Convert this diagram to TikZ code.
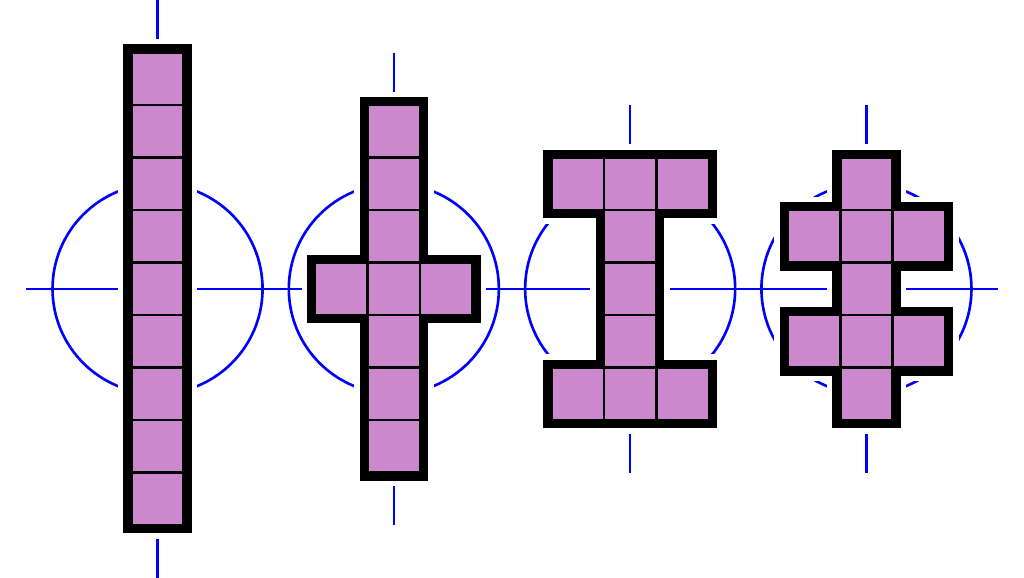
\documentclass[tikz,border=0pt]{standalone}
\definecolor{cellpink}{RGB}{204,136,204}
\tikzset{
  symaxis/.style={draw={rgb,255:red,0;green,0;blue,255}, line width=0.05cm},
  halo/.style={draw=white, line width=0.514cm, line join=miter},
  outline/.style={draw=black, line width=0.305cm, line join=miter},
  cellbox/.style={fill=cellpink, draw=black, line width=0.053cm},
}
\newcommand{\symaxes}[1]{%
  \draw[symaxis] (0,0) circle (2);
  \draw[symaxis] (0,-#1) -- (0,#1);
  \draw[symaxis] (-2.5,0) -- (2.5,0);
}
\begin{document}
\begin{tikzpicture}[x=1cm,y=1cm]
\useasboundingbox (0,0) rectangle (19.5,11);
\fill[white] (0,0) rectangle (19.5,11);

% shape 1: straight nonomino
\begin{scope}[shift={(3,5.5)}]
  \symaxes{5.5}
  \foreach \s in {halo,outline}
    \draw[\s] (-0.5,-4.5) -- (0.5,-4.5) -- (0.5,4.5) -- (-0.5,4.5) -- cycle;
  \foreach \cy in {-4,...,4}
    \draw[cellbox] (-0.5,\cy-0.5) rectangle ++(1,1);
\end{scope}

% shape 2: cross
\begin{scope}[shift={(7.5,5.5)}]
  \symaxes{4.5}
  \foreach \s in {halo,outline}
    \draw[\s] (-0.5,-3.5) -- (0.5,-3.5) -- (0.5,-0.5) -- (1.5,-0.5) -- (1.5,0.5)
      -- (0.5,0.5) -- (0.5,3.5) -- (-0.5,3.5) -- (-0.5,0.5) -- (-1.5,0.5)
      -- (-1.5,-0.5) -- (-0.5,-0.5) -- cycle;
  \foreach \cx/\cy in {0/-3,0/-2,0/-1,0/0,0/1,0/2,0/3,-1/0,1/0}
    \draw[cellbox] (\cx-0.5,\cy-0.5) rectangle ++(1,1);
\end{scope}

% shape 3: I-beam
\begin{scope}[shift={(12,5.5)}]
  \symaxes{3.5}
  \foreach \s in {halo,outline}
    \draw[\s] (-1.5,-2.5) -- (1.5,-2.5) -- (1.5,-1.5) -- (0.5,-1.5) -- (0.5,1.5)
      -- (1.5,1.5) -- (1.5,2.5) -- (-1.5,2.5) -- (-1.5,1.5) -- (-0.5,1.5)
      -- (-0.5,-1.5) -- (-1.5,-1.5) -- cycle;
  \foreach \cx/\cy in {-1/2,0/2,1/2,0/1,0/0,0/-1,-1/-2,0/-2,1/-2}
    \draw[cellbox] (\cx-0.5,\cy-0.5) rectangle ++(1,1);
\end{scope}

% shape 4: double cross
\begin{scope}[shift={(16.5,5.5)}]
  \symaxes{3.5}
  \foreach \s in {halo,outline}
    \draw[\s] (-0.5,-2.5) -- (0.5,-2.5) -- (0.5,-1.5) -- (1.5,-1.5) -- (1.5,-0.5)
      -- (0.5,-0.5) -- (0.5,0.5) -- (1.5,0.5) -- (1.5,1.5) -- (0.5,1.5)
      -- (0.5,2.5) -- (-0.5,2.5) -- (-0.5,1.5) -- (-1.5,1.5) -- (-1.5,0.5)
      -- (-0.5,0.5) -- (-0.5,-0.5) -- (-1.5,-0.5) -- (-1.5,-1.5) -- (-0.5,-1.5) -- cycle;
  \foreach \cx/\cy in {0/2,-1/1,0/1,1/1,0/0,-1/-1,0/-1,1/-1,0/-2}
    \draw[cellbox] (\cx-0.5,\cy-0.5) rectangle ++(1,1);
\end{scope}
\end{tikzpicture}
\end{document}
